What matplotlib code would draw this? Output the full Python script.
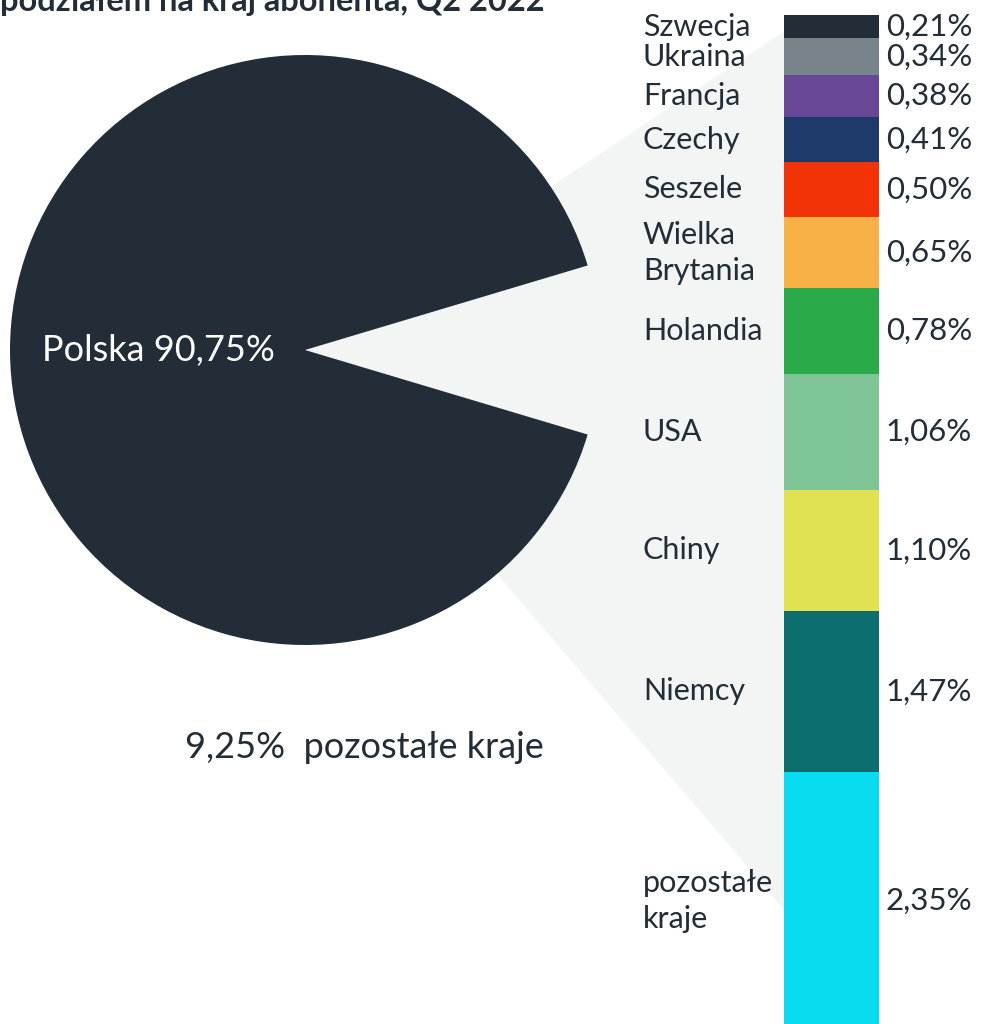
import numpy as np
import matplotlib
matplotlib.use('Agg')
import matplotlib.pyplot as plt
from matplotlib.patches import Polygon

plt.rcParams['font.family'] = ['Lato', 'DejaVu Sans']

# data
main_labels = ['Polska', 'pozostałe kraje']
main_values = [90.75, 9.25]

countries = ['Szwecja', 'Ukraina', 'Francja', 'Czechy', 'Seszele', 'Wielka\nBrytania',
             'Holandia', 'USA', 'Chiny', 'Niemcy', 'pozostałe\nkraje']
shares = [0.21, 0.34, 0.38, 0.41, 0.50, 0.65, 0.78, 1.06, 1.10, 1.47, 2.35]
colors = ['#222d37', '#78838a', '#674796', '#1d3a6b', '#f23207', '#f7b046',
          '#29a947', '#7fc496', '#e0e252', '#0d6e6e', '#07dcf0']

title = 'podziałem na kraj abonenta, Q2 2022'
dark = '#222d37'
fan_color = '#f3f5f5'

def pl(v):
    return ('%.2f' % v).replace('.', ',') + '%'

W, H = 982, 1024
fig = plt.figure(figsize=(W / 100, H / 100), dpi=100)
ax = fig.add_axes([0, 0, 1, 1])

# pie, the small slice pointing right is left empty
cx, cy, r = 305, 350, 295
half = main_values[1] / 100 * 360 / 2
wedges, _ = ax.pie([main_values[1], main_values[0]], colors=['none', dark],
                   startangle=-half, radius=r, center=(cx, cy),
                   wedgeprops=dict(linewidth=0))
for w in wedges:
    w.set_zorder(2)
ax.set_xlim(0, W)
ax.set_ylim(H, 0)
ax.axis('off')

# bar of the rest
bax = fig.add_axes([784 / W, (H - 1030) / H, 95 / W, 1015 / H])
total = sum(shares)
bottoms = np.concatenate([[0], np.cumsum(shares)[:-1]])
bax.bar(0.5, shares, bottom=bottoms, width=1, color=colors, linewidth=0)
bax.set_xlim(0, 1)
bax.set_ylim(total, 0)
bax.axis('off')

for name, v, b in zip(countries, shares, bottoms):
    mid = b + v / 2
    bax.text(-1.485, mid, name, ha='left', va='center', fontsize=22, color=dark,
             clip_on=False, linespacing=1.35)
    bax.text(1.07, mid, pl(v), ha='left', va='center', fontsize=22.5, color=dark,
             clip_on=False)

# grey fan from pie centre to the bar
fig.canvas.draw()
to_main = ax.transData.inverted()
p_top = to_main.transform(bax.transData.transform((0, 0.15)))
p_bot = to_main.transform(bax.transData.transform((0, 8.15)))
ax.add_patch(Polygon([(cx, cy), p_top, p_bot], closed=True, facecolor=fan_color,
                     edgecolor='none', zorder=0))

ax.text(cx - 0.89 * r, cy, main_labels[0] + ' ' + pl(main_values[0]), ha='left',
        va='center', fontsize=26, color='white', zorder=3)
ax.text(cx - 120, cy + 398, pl(main_values[1]) + '  ' + main_labels[1], ha='left',
        va='center', fontsize=26, color=dark, zorder=3)

# title line, its top is cut by the edge as in the source image
ax.text(0, 11, title, ha='left', va='baseline', fontsize=23.5, fontweight='bold',
        color=dark)

fig.savefig('out.png', dpi=100)
